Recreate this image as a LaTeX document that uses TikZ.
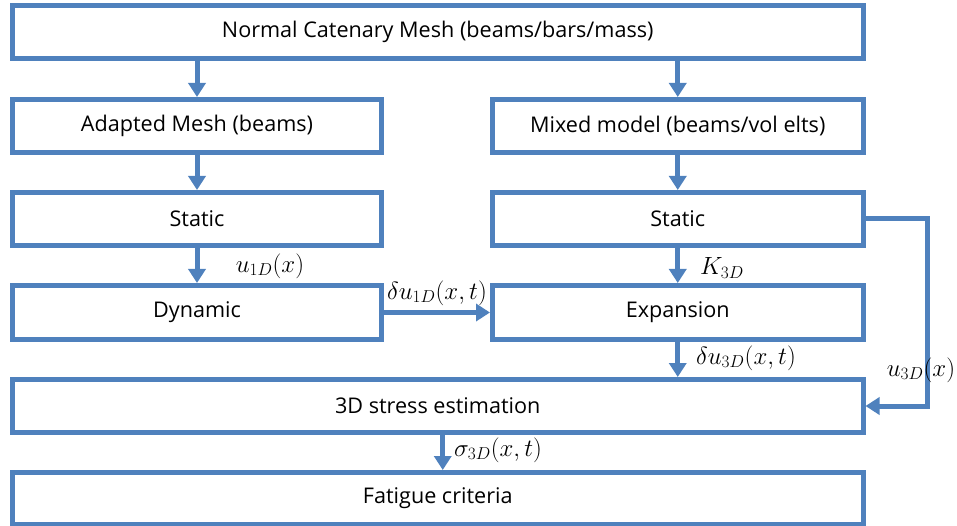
\documentclass[tikz,border=0pt]{standalone}
\usepackage{fontspec}
\setmainfont{Open Sans}
\usetikzlibrary{arrows.meta}
\definecolor{lineblue}{RGB}{79,129,189}
\begin{document}
\begin{tikzpicture}[x=1pt,y=-1pt,
 box/.style={draw=lineblue,line width=5pt,inner sep=0pt,minimum height=53pt,font=\fontsize{21.6}{24}\selectfont},
 arr/.style={draw=lineblue,line width=5pt,-{Triangle[length=14pt,width=17pt]}},
 lab/.style={inner sep=0pt,font=\fontsize{24.5}{27}\selectfont}]
\useasboundingbox (0,0) rectangle (957,526);
\node[box,minimum width=850.5pt] (top) at (437.75,32) {Normal Catenary Mesh (beams/bars/mass)};
\node[box,minimum width=369pt] (adapt) at (197,126) {Adapted Mesh (beams)};
\node[box,minimum width=370.5pt] (mixed) at (677.75,126) {Mixed model (beams/vol elts)};
\node[box,minimum width=369pt] (lstat) at (197,219) {Static};
\node[box,minimum width=370.5pt] (rstat) at (677.75,219) {Static};
\node[box,minimum width=369pt,minimum height=54pt] (dyn) at (197,312.5) {Dynamic};
\node[box,minimum width=370.5pt,minimum height=54pt] (expn) at (677.75,312.5) {Expansion};
\node[box,minimum width=850.5pt] (stress) at (437.75,406) {3D stress estimation};
\node[box,minimum width=850.5pt,minimum height=52pt] (fat) at (437.75,498.5) {Fatigue criteria};
\coordinate (corner) at (927,219);
\draw[arr] (top.south -| adapt.north) -- (adapt.north);
\draw[arr] (top.south -| mixed.north) -- (mixed.north);
\draw[arr] (adapt.south) -- (lstat.north);
\draw[arr] (mixed.south) -- (rstat.north);
\draw[arr] (lstat.south) -- (dyn.north);
\draw[arr] (rstat.south) -- (expn.north);
\draw[arr] (dyn.east) -- (expn.west);
\draw[arr] (expn.south) -- (stress.north -| expn.south);
\draw[arr] ([xshift=5pt]stress.south) -- ([xshift=5pt]fat.north);
\draw[arr] (rstat.east) -- (corner) |- (stress.east);
\node[lab] (l1) at (270,266) {$u_{1D}(x)$};
\node[lab] (l2) at (437,293) {$\delta u_{1D}(x,t)$};
\node[lab] (l3) at (722,268) {$K_{3D}$};
\node[lab] (l4) at (746,358) {$\delta u_{3D}(x,t)$};
\node[lab] (l5) at (921,370) {$u_{3D}(x)$};
\node[lab] (l6) at (498,450) {$\sigma_{3D}(x,t)$};
\end{tikzpicture}
\end{document}
